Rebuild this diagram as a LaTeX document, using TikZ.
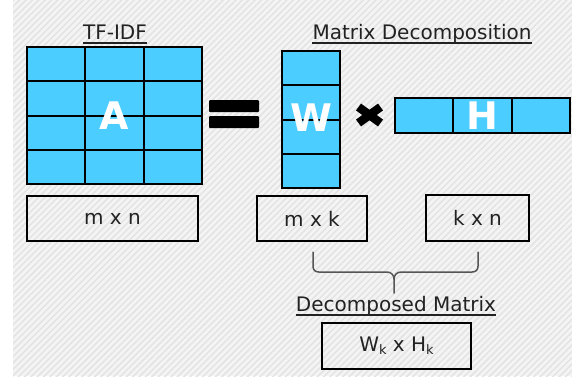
\documentclass[tikz,border=0pt]{standalone}
\usepackage{fontspec}
\setmainfont{DejaVu Sans}
\usetikzlibrary{patterns.meta,calc}
\definecolor{cellblue}{HTML}{4CCDFF}
\definecolor{txt}{HTML}{222222}
\definecolor{bgcol}{HTML}{F4F4F4}
\definecolor{stripe}{HTML}{E3E3E3}
\definecolor{bracecol}{HTML}{555555}
\begin{document}
\begin{tikzpicture}[x=1pt,y=-1pt,
  mat/.style={draw=black,line width=2pt,fill=cellblue,inner sep=0pt,outer sep=0pt,rectangle},
  gridline/.style={draw=black,line width=2pt},
  bigletter/.style={text=white,font=\bfseries\fontsize{38}{38}\selectfont,inner sep=0pt},
  dimbox/.style={draw=black,line width=2.5pt,fill=none,inner sep=0pt,outer sep=0pt,rectangle,text=txt,font=\fontsize{20}{20}\selectfont},
  title/.style={text=txt,font=\fontsize{20}{20}\selectfont,inner sep=0pt,anchor=base},
  uline/.style={draw=txt,line width=1.5pt},
  timesbar/.style={line width=8.5pt},
  bracestyle/.style={draw=bracecol,line width=1.5pt,line cap=round,line join=round}]
\useasboundingbox (0,0) rectangle (572,376);
\fill[white] (0,0) rectangle (572,376);
\fill[bgcol] (13,0) rectangle (572,376);
\fill[pattern={Lines[angle=45,distance=4.5pt,line width=1.5pt]},pattern color=stripe] (13,0) rectangle (572,376);

% titles
\node[title] (tfidf) at (115,39) {TF-IDF};
\draw[uline] ([yshift=-4pt]tfidf.base west) -- ([yshift=-4pt]tfidf.base east);
\node[title] (mdec) at (422,39) {Matrix Decomposition};
\draw[uline] ([yshift=-4pt]mdec.base west) -- ([yshift=-4pt]mdec.base east);

% matrix A
\node[mat,minimum width=175pt,minimum height=137pt] (A) at (114.5,115.5) {};
\foreach \f in {0.3333,0.6667}
  \draw[gridline] ($(A.north west)!\f!(A.north east)$) -- ($(A.south west)!\f!(A.south east)$);
\foreach \f in {0.25,0.5,0.75}
  \draw[gridline] ($(A.north west)!\f!(A.south west)$) -- ($(A.north east)!\f!(A.south east)$);
\node[bigletter] (Al) at (A.center) {A};

% equals sign
\fill[black,rounded corners=1pt] (209,100) rectangle (259,112);
\fill[black,rounded corners=1pt] (209,116) rectangle (259,128);

% matrix W
\node[mat,minimum width=58pt,minimum height=137pt] (W) at (311,119.5) {};
\foreach \f in {0.25,0.5,0.75}
  \draw[gridline] ($(W.north west)!\f!(W.south west)$) -- ($(W.north east)!\f!(W.south east)$);
\node[bigletter] (Wl) at ([yshift=2pt]W.center) {W};

% times sign
\draw[timesbar] (358.5,107) -- (380.5,123);
\draw[timesbar] (358.5,123) -- (380.5,107);

% matrix H
\node[mat,minimum width=175pt,minimum height=35pt] (H) at (482.5,115.5) {};
\foreach \f in {0.3333,0.6667}
  \draw[gridline] ($(H.north west)!\f!(H.north east)$) -- ($(H.south west)!\f!(H.south east)$);
\node[bigletter] (Hl) at (H.center) {H};

% dimension boxes
\node[dimbox,minimum width=171pt,minimum height=45pt] (mn) at (112.5,218.5) {m x n};
\node[dimbox,minimum width=110pt,minimum height=45pt] (mk) at (312,218.5) {m x k};
\node[dimbox,minimum width=103pt,minimum height=46pt] (kn) at (477.5,218) {k x n};

% brace
\coordinate (bl) at (313,252);
\coordinate (br) at (478,252);
\coordinate (bt) at (394,293);
\draw[bracestyle] (bl) -- (313,266) .. controls (313,270) and (315,272) .. (319,272) -- (387,272)
   .. controls (391,272) and (394,275) .. (394,279) -- (bt);
\draw[bracestyle] (br) -- (478,266) .. controls (478,270) and (476,272) .. (472,272) -- (401,272)
   .. controls (397,272) and (394,275) .. (394,279);

% decomposed matrix
\node[title] (dm) at (396,311) {Decomposed Matrix};
\draw[uline] ([yshift=-4pt]dm.base west) -- ([yshift=-4pt]dm.base east);
\node[dimbox,minimum width=149pt,minimum height=46pt] (wh) at (396.5,346) {W\raisebox{-0.3ex}{\fontsize{13}{13}\selectfont k} x H\raisebox{-0.3ex}{\fontsize{13}{13}\selectfont k}};
\end{tikzpicture}
\end{document}
